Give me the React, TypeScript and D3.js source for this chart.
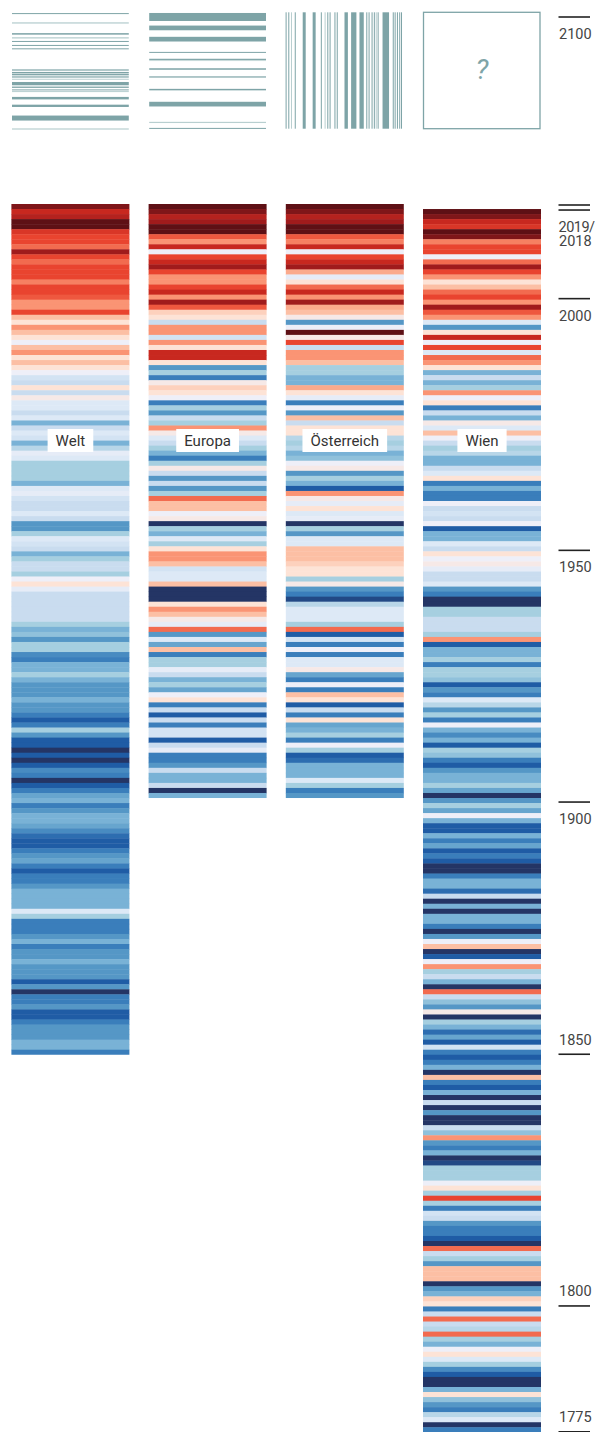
import React, { useEffect, useRef } from "react";
import * as d3 from "d3";

// ---------------- data ----------------
const REGIONS = ["Welt", "Europa", "Österreich", "Wien"];
// last year shown on top of each column (values below run newest -> oldest)
const LAST_YEARS = [2018, 2018, 2018, 2017];

// anomaly level per year, newest first (-8 = coldest ... +8 = warmest)
const welt = [
  7.5, 6, 6.5, 8, 8, 5.5, 5, 5, 4, 7, 5, 4, 5, 5, 5, 3.5, 5, 5, 4.5, 3, 3, 5,
  2, 1, 3, 2, 1, 0, 2, 3, 1, 2, 1, 0, -1.5, -2, 1, -2, 0.5, -1, -1, -2, -1, -4,
  -2, -1, -1.5, -4, -2.5, -0.5, -1, -3, -3, -3, -3, -4, -1, -0.5, -1.5, -2, -2, -1, -2, -5, -5, -3,
  -1, -1.5, -2, -4, -3, -2, -2, -3, 0, 1, -0.5, -2, -2, -2, -2, -2, -2, -3, -4, -3.5, -5, -3,
  -3, -5.5, -6, -4, -4, -3, -4, -5, -5, -5, -4, -5, -5, -6, -7, -6, -3, -5, -7, -7, -8, -7, -8,
  -7, -5.5, -6, -8, -7, -6, -4.5, -4, -6, -5, -4, -4, -4.5, -5.5, -6.5, -7, -7, -6, -5, -4.5, -6, -7,
  -6, -6, -5, -4, -4, -4, -4, -1, -3, -6, -6, -6, -5, -4, -6, -5, -5, -4, -5, -5, -5, -7,
  -5, -8, -6, -6, -5, -7, -7, -6, -5, -5, -5, -4, -4, -6,
];
const europa = [
  8, 7.5, 6.5, 7, 8, 8, 4.5, 3, 6, 0, 5, 6, 7, 5, 3, 3, 5, 6, 3, 7, 4.5, 1.5,
  1, -2, 3, 3, -1.5, 3, 1, 6, 6, 1, -5, -3, -6, 0.5, 1.5, 1, 0, -6, -3, -5, -2, -3,
  3, 0.5, -1, -2, -3, -4, -6, -3, 0.5, -2, -5, -2, -5, -3, 4, 2, 2, 0, 0.5, -8, -3, -4,
  -1, -3, 1, 3, 3, 2, -1.5, -1, -1, 2, -8, -8, -8, 1, 3, 2, 0.5, -0.5, 4, -5, -1, -4.5,
  2, -6, -3, -3, -0.5, -2, -4, -3, -4.5, 0, 1, -6, -2, -7, -2, -6, -1.5, -1.5, -7, -2, -0.5, -6, -6,
  -5, -2, -4, -4, -2, -8, -4,
];
const oesterreich = [
  8, 7.5, 6.5, 7, 8, 8, 4.5, 3.5, 6, 0, 5, 6, 7, 2.5, -0.5, 1, 4, 6, 3, 7, 2.5, 2,
  0.5, -5, 0, 8, 0.5, 5, -2, 3, 3, 2, -3, -3, -4, -4, 2.5, 1, -0.5, -6, 0, -5, 2, -2,
  1, 1, -2.5, -3, -2.5, -4, -3.5, 0, 0.5, -5, -3, -4, -7, 3, 0.5, -0.5, 1, -1, -0.5, -8, -3, -5,
  -1, -1, 2, 2, 2, 1.5, 1, 1, -3, 0.5, -5, -6, -7.5, -2.5, -1, -1, -1, -3, 4, -7, -1.5, -6,
  0, -6, -1, -1, 0.5, -4.5, -6, 0, -6, 2, 1, -7, -2, -6, 1, -4.5, -4, -3, -6, 0, -3, -7, -6.5,
  -4, -4, -4, -1, -3, -6, -5,
];
const wien = [
  8, 7.5, 6, 5.5, 8, 7.5, 3.5, 5, 5, 0, 4, 7, 5, 3, 1, 2, 4, 5, 3, 7, 4.5,
  3, -1, -5, 1, 6, 0, 5, -1, 4, 3, 1, -4, -2, -4, -3, 3, 0, 1, -6, -2, -4, 0.5,
  -1, 2, 0, -2, -3, -2.5, -4, -4, -2, -1, 1, -6, -4, -6, -6, 0, -2, -1.5, -2, 0, -7, -4,
  -4, -1, -2, 1, 0, 0.5, -0.5, -2, -2, -1, -5, -6, -8, -8, -3, -3, -2, -2, -2, -3, 3, -7,
  -4, -4, -3, -6, -3, -3, -3.5, -7, -5, -6, -1, -2.5, -5, -3, -6, 0, -4, -5.5, -4, -7, -3, -3.5, -6,
  -7, -5, -4, -4, -3, -4.5, -8, -5, -3, -4.5, 0, -4, -7, -7, -4, -6, -4.5, -7, -6, -7, -8, -8,
  -6, -4, -4, -6.5, -2, -8, -4, -8, -4, -4, -6, -8, -5, 0, 2, -8, -7, 0, 3, -3, -2, -4,
  -8, 4, -2, -3.5, -5, 0.5, -8, -3, -4, -6.5, -4.5, -7, -1.5, -6, -7, -6, -4, -8, 2, -6, -7, -4, -8,
  -2, -8, -5, -8, -8, -2, -3.5, 3, -5, -6, -4, -8, -7.5, -3, -3, -3, 0, 1, -3, 5, -3, -6,
  -1.5, -2, -5, -6, -6, -7, -8, 4, -2, -3, -5, 2, 2, 2, -8, -5, -4, 1.5, 1, -6, -2,
  4, -2, -2.5, 4, -3, -4, 0, 1, -1, -3, -5.5, -7, -8, -8, -4, 1, -3.5, -5, -6, -2.5, -1, -8, -6,
];
const SERIES = [welt, europa, oesterreich, wien];

// colour levels
const LEVELS = d3.range(-8, 9);
const PALETTE = [
  "#243565", "#1f5ca5", "#3a7ebb", "#5597c6", "#79b2d6", "#a6cfe0", "#c9dcef", "#dde9f6",
  "#eeeff8",
  "#fde3d6", "#fcbfa4", "#fa9474", "#f26b4f", "#e9442f", "#c8281f", "#a01b1c", "#5e1015",
];

// year axis
const TICKS_BELOW = [2000, 1950, 1900];
const TICKS_ABOVE = [1850, 1800, 1775];
const TICKS_DOUBLE = [2019, 2018];
const FUTURE_TICK = 2100;

// "future" boxes: [relative position, thickness, shade]
const weltFuture = [
  [1.3, 1, 0], [10.7, 1.3, 1], [21.7, 1.5, 0], [25.7, 1.3, 1], [29.3, 1, 0], [33.3, 1, 0], [36.7, 1, 0],
  [58, 1.2, 0], [60.7, 1.5, 0], [62.7, 1.3, 0], [65, 1.2, 0], [67.3, 1, 1], [71.7, 3.3, 0], [75.3, 1.3, 0],
  [78, 1, 0], [79.7, 1, 1], [86.3, 2.5, 0], [94, 2.3, 0], [106.3, 5, 0], [117.3, 1.2, 1],
];
const europaFuture = [
  [4.7, 8, 0], [15.7, 4.7, 0], [27, 4.7, 0], [40.3, 1, 0], [47.3, 1.2, 0], [48.6, 0.8, 1], [57, 1.5, 0],
  [65, 1.2, 0], [77.7, 1.5, 0], [92.3, 4.7, 0], [110.7, 1.2, 1], [116.7, 1, 0],
];
const oesterreichFuture = [
  [0.3, 1, 0], [3, 1, 0], [5.7, 1, 1], [9.5, 1, 0], [18.5, 3, 0], [28.5, 3, 0], [35.7, 1, 0], [39.5, 1, 1],
  [42.2, 1, 0], [44.5, 1, 0], [49.4, 1, 0], [51.7, 1, 0], [60.7, 3.4, 0], [68.3, 5.3, 0], [76.2, 4.3, 0],
  [81.4, 1, 0], [83.7, 1, 0], [86.7, 1, 0], [89, 1, 0], [90.9, 1, 1], [92.8, 1, 0], [100.5, 6.5, 0],
  [108, 1, 0], [109.9, 1, 0], [112.2, 1, 0], [114.5, 1, 0], [116.3, 1, 0],
];
const TEAL = ["#7ea4a7", "#b8cfd0"];

export default function App() {
  const ref = useRef<SVGSVGElement>(null);

  useEffect(() => {
    const svg = d3.select(ref.current);
    svg.selectAll("*").remove();
    const font = "Roboto, 'Open Sans', sans-serif";

    const x = d3.scaleBand<string>().domain(REGIONS).range([11.4, 541]).paddingInner(0.14).paddingOuter(0);
    const y = d3.scaleLinear().domain([1775, 2019]).range([1432.3, 204]);
    const color = d3.scaleLinear<string>().domain(LEVELS).range(PALETTE).interpolate(d3.interpolateRgb).clamp(true);
    const bw = x.bandwidth();

    // stripes
    REGIONS.forEach((r, ri) => {
      const last = LAST_YEARS[ri];
      const first = last - SERIES[ri].length + 1;
      const data = SERIES[ri].map((v, i) => ({ year: last - i, v }));
      svg.append("g")
        .selectAll("rect")
        .data(data)
        .join("rect")
        .attr("x", x(r)!)
        .attr("width", bw)
        .attr("y", (d) => y(d.year + 1))
        .attr("height", (d) => y(d.year) - y(d.year + 1) + (d.year === first ? 0 : 0.4))
        .attr("fill", (d) => color(d.v));
    });

    // region labels
    REGIONS.forEach((r) => {
      const cx = x(r)! + bw / 2;
      const g = svg.append("g");
      const rect = g.append("rect").attr("fill", "#fff");
      const t = g.append("text")
        .attr("x", cx).attr("y", 445.5)
        .attr("text-anchor", "middle")
        .attr("font-family", font).attr("font-size", 15).attr("fill", "#333")
        .text(r);
      const bb = (t.node() as SVGTextElement).getBBox();
      rect.attr("x", bb.x - 8).attr("y", 429).attr("width", bb.width + 16).attr("height", 23);
    });

    // future boxes
    const boxTop = 12.3, boxH = 116.4;
    const rel = d3.scaleLinear().domain([0, 117]).range([0, boxH]);
    const drawH = (data: number[][], r: string) => {
      const x0 = x(r)!;
      svg.append("g").selectAll("rect").data(data).join("rect")
        .attr("x", x0 + 0.6).attr("width", bw - 1.2)
        .attr("y", (d) => boxTop + rel(d[0]) - d[1] / 2)
        .attr("height", (d) => d[1])
        .attr("fill", (d) => TEAL[d[2]]);
    };
    drawH(weltFuture, "Welt");
    drawH(europaFuture, "Europa");
    const xo = x("Österreich")!;
    svg.append("g").selectAll("rect").data(oesterreichFuture).join("rect")
      .attr("x", (d) => xo + rel(d[0]) - d[1] / 2)
      .attr("width", (d) => d[1])
      .attr("y", boxTop).attr("height", boxH)
      .attr("fill", (d) => TEAL[d[2]]);
    const xw = x("Wien")!;
    svg.append("rect")
      .attr("x", xw + 0.5).attr("y", boxTop).attr("width", bw - 1.5).attr("height", boxH)
      .attr("fill", "none").attr("stroke", TEAL[0]).attr("stroke-width", 1.3);
    svg.append("text")
      .attr("x", xw + bw / 2).attr("y", 79)
      .attr("text-anchor", "middle")
      .attr("font-family", font).attr("font-size", 28).attr("font-style", "italic").attr("fill", TEAL[0])
      .text("?");

    // axis
    const ax = svg.append("g").attr("font-family", font).attr("font-size", 14.5).attr("fill", "#444");
    const tick = (yy: number) =>
      ax.append("line").attr("x1", 558.5).attr("x2", 590).attr("y1", yy).attr("y2", yy)
        .attr("stroke", "#222").attr("stroke-width", 1.6);
    const futureY = d3.scaleLinear().domain([2020, 2100]).range([129, 17]);
    tick(futureY(FUTURE_TICK));
    ax.append("text").attr("x", 559).attr("y", futureY(FUTURE_TICK) + 22).text(String(FUTURE_TICK));
    TICKS_DOUBLE.forEach((yr) => tick(y(yr) + 1));
    ax.append("text").attr("x", 558.5).attr("y", y(TICKS_DOUBLE[1]) + 22.5)
      .attr("letter-spacing", -0.5).text(TICKS_DOUBLE[0] + "/");
    ax.append("text").attr("x", 559).attr("y", y(TICKS_DOUBLE[1]) + 37).text(String(TICKS_DOUBLE[1]));
    TICKS_BELOW.forEach((yr) => {
      tick(y(yr) - 1);
      ax.append("text").attr("x", 559).attr("y", y(yr) + 21).text(String(yr));
    });
    TICKS_ABOVE.forEach((yr) => {
      tick(y(yr) - 0.5);
      ax.append("text").attr("x", 559).attr("y", y(yr) - 10).text(String(yr));
    });
  }, []);

  return (
    <svg
      ref={ref}
      width={595}
      height={1432}
      style={{ position: "absolute", left: 0, top: 0, display: "block", background: "#fff" }}
    />
  );
}
